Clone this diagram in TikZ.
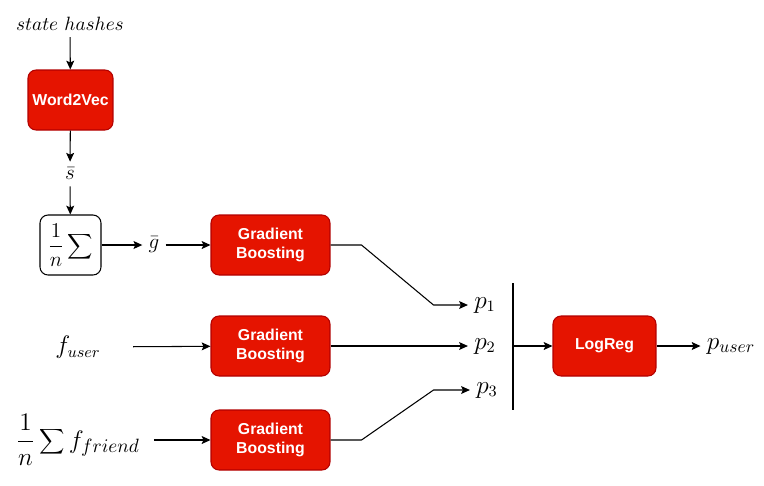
\documentclass[tikz,border=0pt]{standalone}
\usepackage{fontspec}
\setsansfont{Liberation Sans}
\usetikzlibrary{positioning, arrows.meta}

\definecolor{boxred}{HTML}{E51400}
\definecolor{boxline}{HTML}{B20000}

\begin{document}
\begin{tikzpicture}[x=0.02cm, y=-0.02cm,
  model/.style={draw=boxline, fill=boxred, rounded corners=0.16cm, text=white,
    font=\sffamily\bfseries\fontsize{9}{10.6}\selectfont, align=center,
    minimum width=2.38cm, minimum height=1.2cm, inner sep=1pt},
  lbl/.style={font=\fontsize{13.5}{16}\selectfont},
  line width=0.6pt,
  >={Stealth[length=5pt, width=4.5pt, inset=1pt]}]

\useasboundingbox (0,0) rectangle (764,485);

% input side
\node[font=\fontsize{10.8}{13}\selectfont] (hashes) at (70,24) {$state\ hashes$};
\node[model, minimum width=1.7cm] (w2v) at (70.5,100) {Word2Vec};
\node[font=\fontsize{12}{14}\selectfont] (sbar) at (70,174) {$\bar{s}$};
\node[draw, rounded corners=0.16cm, minimum width=1.22cm, minimum height=1.2cm, inner sep=1pt,
  font=\fontsize{12.5}{15}\selectfont] (avg) at (70.5,245) {$\displaystyle\frac{1}{n}\sum$};
\node[font=\fontsize{12}{14}\selectfont] (gbar) at (154,245) {$\bar{g}$};
\node[lbl] (fuser) at (78,347) {$f_{user}$};
\node[font=\fontsize{15}{18}\selectfont] (ffriend) at (78,440) {$\displaystyle\frac{1}{n}\sum f_{friend}$};

% boosting models
\node[model] (gb1) at (270.5,245) {Gradient\\Boosting};
\node[model] (gb2) at (270.5,346) {Gradient\\Boosting};
\node[model] (gb3) at (270.5,440) {Gradient\\Boosting};

% probabilities
\node[lbl] (p1) at (485,305) {$p_1$};
\node[lbl] (p2) at (485,346) {$p_2$};
\node[lbl] (p3) at (487,390) {$p_3$};
\coordinate (bartop) at (513,283);
\coordinate (barbot) at (513,410);

\node[model, minimum width=2.06cm] (lr) at (604.5,346) {LogReg};
\node[lbl, font=\fontsize{14.5}{17}\selectfont] (puser) at (731,346) {$p_{user}$};

\draw[->] (hashes) -- (w2v);
\draw[->] (w2v) -- (sbar);
\draw[->] (sbar) -- (avg);
\draw[->] (avg) -- (gbar);
\draw[->] (gbar) -- (gb1);
\draw[->, shorten <=0.52cm] (fuser) -- (gb2);
\draw[->, shorten <=0.15cm] (ffriend) -- (gb3);

\draw[->] (gb1.east) -- ++(31,0) -- ++(72,60) -- (p1.west);
\draw[->] (gb2) -- (p2);
\draw[->] (gb3.east) -- ++(31,0) -- ++(72,-50) -- (p3.west);

\draw (bartop) -- (barbot);
\draw[->] (bartop |- lr.west) -- (lr.west);
\draw[->] (lr) -- (puser);
\end{tikzpicture}
\end{document}
